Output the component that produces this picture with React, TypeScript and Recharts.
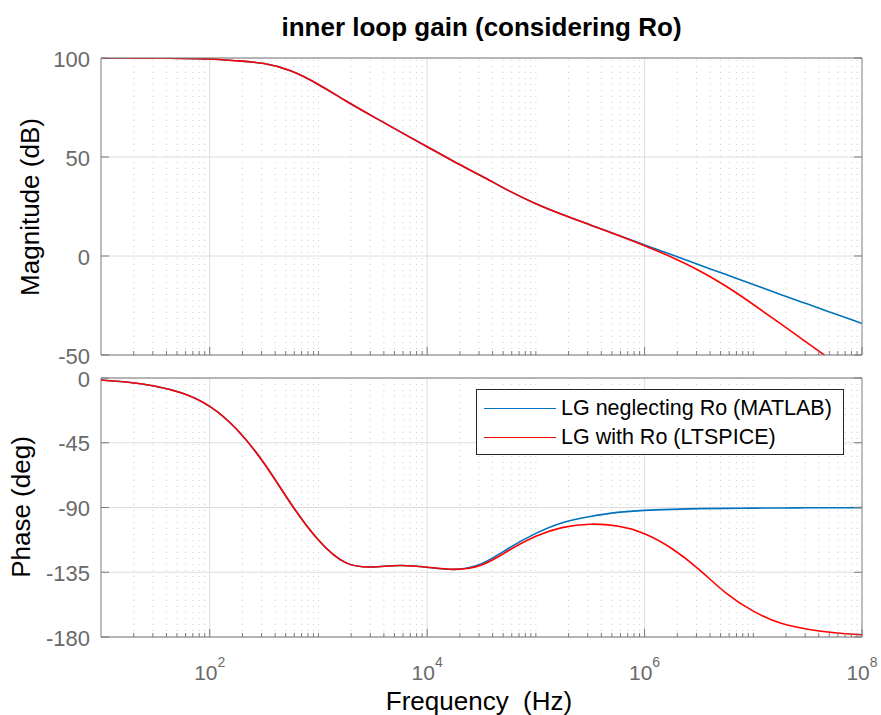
import React from 'react'
import { LineChart, Line, XAxis, YAxis, CartesianGrid, Legend, ReferenceLine } from 'recharts'

// frequency points, a quarter decade apart (Hz)
const freqHz = [
  10, 17.78, 31.62, 56.23, 100, 177.8, 316.2, 562.3, 1000, 1778, 3162, 5623, 10000, 17783, 31623,
  56234, 100000, 177828, 316228, 562341, 1000000, 1778279, 3162278, 5623413, 10000000, 17782794,
  31622777, 56234133, 100000000,
]

// magnitude (dB)
const magMatlab = [
  100, 100, 99.9, 99.8, 99.5, 98.6, 97.2, 93.4, 86.6, 78.4, 70.5, 62.8, 55.2, 47.6, 40.4, 33.0,
  26.4, 20.8, 15.7, 10.6, 5.6, 0.6, -4.4, -9.4, -14.4, -19.4, -24.3, -29.2, -34.1,
]
const magLtspice = [
  100, 100, 99.9, 99.8, 99.5, 98.6, 97.2, 93.4, 86.6, 78.4, 70.5, 62.8, 55.2, 47.6, 40.4, 33.0,
  26.4, 20.8, 15.7, 10.6, 5.2, -0.6, -7.3, -15.3, -24.5, -34.2, -44.0, -53.8, -63.7,
]

// phase (deg)
const phaseMatlab = [
  -1.4, -3.0, -5.7, -10.6, -19.7, -35.8, -59.3, -87.7, -112.6, -128.3, -131.3, -130.3, -131.5,
  -133, -129, -118.3, -108, -100.4, -96.2, -93.4, -92, -91.3, -90.8, -90.6, -90.4, -90.3, -90.2,
  -90.2, -90.1,
]
const phaseLtspice = [
  -1.4, -3.0, -5.7, -10.6, -19.7, -35.8, -59.3, -87.7, -112.6, -128.3, -131.3, -130.3, -131.5,
  -133, -130, -119.9, -110, -103.8, -101.6, -102.9, -108.2, -118.5, -133, -149.5, -162, -170.3,
  -174.6, -177, -178.4,
]

const seriesNames = ['LG neglecting Ro (MATLAB)', 'LG with Ro (LTSPICE)']
const magTicks = [-50, 0, 50, 100]
const phaseTicks = [-180, -135, -90, -45, 0]
const majorXTicks = [100, 10000, 1000000, 100000000]
const majorGridX = [100, 10000, 1000000]

// minor ticks: 2..9 of each decade plus the unlabelled decades
const minorXTicks: number[] = []
for (let d = 1; d <= 7; d++) {
  for (let k = 2; k <= 10; k++) {
    const v = k * Math.pow(10, d)
    if (!majorXTicks.includes(v)) minorXTicks.push(v)
  }
}
const allXTicks = [...minorXTicks, ...majorXTicks].sort((a, b) => a - b)

const magData = freqHz.map((f, i) => ({ f, matlab: magMatlab[i], ltspice: magLtspice[i] }))
const phaseData = freqHz.map((f, i) => ({ f, matlab: phaseMatlab[i], ltspice: phaseLtspice[i] }))

const BLUE = '#0072BD'
const RED = '#FF0000'
const AXIS = '#7a7a7a'
const TICK = '#6a6a6a'
const FONT = '"Liberation Sans", Arial, Helvetica, sans-serif'

const isMajor = (v: number) => majorXTicks.includes(v)

const BottomTick = (props: any) => {
  const { x, y, payload, labels } = props
  const v = payload.value
  const len = isMajor(v) ? 8 : 4
  return (
    <g>
      <line x1={x} x2={x} y1={y} y2={y - len} stroke={AXIS} />
      {labels && isMajor(v) && (
        <text x={x} y={y + 43} textAnchor="middle" fill={TICK} fontSize={21} fontFamily={FONT}>
          10
          <tspan dy={-13} fontSize={14}>
            {Math.round(Math.log10(v))}
          </tspan>
        </text>
      )}
    </g>
  )
}

const TopTick = (props: any) => {
  const { x, y, payload } = props
  const len = isMajor(payload.value) ? 8 : 4
  return <line x1={x} x2={x} y1={y} y2={y + len} stroke={AXIS} />
}

const LeftTick = (props: any) => {
  const { x, y, payload } = props
  return (
    <g>
      <line x1={x} x2={x + 8} y1={y} y2={y} stroke={AXIS} />
      <text
        x={x - 11}
        y={y}
        dy={1}
        textAnchor="end"
        dominantBaseline="central"
        fill={TICK}
        fontSize={22}
        fontFamily={FONT}
      >
        {payload.value}
      </text>
    </g>
  )
}

const RightTick = (props: any) => {
  const { x, y } = props
  return <line x1={x} x2={x - 8} y1={y} y2={y} stroke={AXIS} />
}

const LegendBox = ({ payload }: any) => (
  <div
    style={{
      position: 'relative',
      width: 368,
      height: 66,
      boxSizing: 'border-box',
      border: '1px solid #262626',
      background: '#fff',
      fontFamily: FONT,
    }}
  >
    {(payload || []).map((p: any, i: number) => (
      <div
        key={p.value}
        style={{
          position: 'absolute',
          left: 7,
          top: 3.6 + i * 29.4,
          height: 29.4,
          display: 'flex',
          alignItems: 'center',
          whiteSpace: 'nowrap',
        }}
      >
        <div style={{ width: 72, borderTop: `1.6px solid ${p.color}` }} />
        <span style={{ marginLeft: 5, fontSize: 21.5, color: '#000' }}>{p.value}</span>
      </div>
    ))}
  </div>
)

function Panel({
  data,
  ticks,
  domain,
  height,
  top,
  bottomHeight,
  labels,
  legend,
}: {
  data: any[]
  ticks: number[]
  domain: [number, number]
  height: number
  top: number
  bottomHeight: number
  labels: boolean
  legend: boolean
}) {
  return (
    <LineChart width={881} height={height} data={data} margin={{ top, right: 0, bottom: 0, left: 0 }}>
      <CartesianGrid xAxisId="b" yAxisId="l" vertical={false} stroke="#dedede" />
      {minorXTicks.map((v) => (
        <ReferenceLine
          key={'m' + v}
          xAxisId="b"
          yAxisId="l"
          x={v}
          stroke="#cdcdcd"
          strokeDasharray="1 5"
          zIndex={-90}
        />
      ))}
      {majorGridX.map((v) => (
        <ReferenceLine key={'M' + v} xAxisId="b" yAxisId="l" x={v} stroke="#dedede" zIndex={-90} />
      ))}
      <XAxis
        xAxisId="b"
        dataKey="f"
        type="number"
        scale="log"
        domain={[10, 100000000]}
        allowDataOverflow
        ticks={allXTicks}
        interval={0}
        height={bottomHeight}
        tickSize={0}
        tickMargin={0}
        tickLine={false}
        axisLine={{ stroke: AXIS }}
        tick={<BottomTick labels={labels} />}
      />
      <XAxis
        xAxisId="t"
        orientation="top"
        type="number"
        scale="log"
        domain={[10, 100000000]}
        allowDataOverflow
        ticks={allXTicks}
        interval={0}
        height={10}
        tickSize={0}
        tickMargin={0}
        tickLine={false}
        axisLine={{ stroke: AXIS }}
        tick={<TopTick />}
      />
      <YAxis
        yAxisId="l"
        type="number"
        domain={domain}
        allowDataOverflow
        ticks={ticks}
        interval={0}
        width={101}
        tickSize={0}
        tickMargin={0}
        tickLine={false}
        axisLine={{ stroke: AXIS }}
        tick={<LeftTick />}
      />
      <YAxis
        yAxisId="r"
        orientation="right"
        type="number"
        domain={domain}
        allowDataOverflow
        ticks={ticks}
        interval={0}
        width={19}
        tickSize={0}
        tickMargin={0}
        tickLine={false}
        axisLine={{ stroke: AXIS }}
        tick={<RightTick />}
      />
      <Line
        xAxisId="b"
        yAxisId="l"
        type="natural"
        dataKey="matlab"
        name={seriesNames[0]}
        stroke={BLUE}
        strokeWidth={1.6}
        dot={false}
        isAnimationActive={false}
      />
      <Line
        xAxisId="b"
        yAxisId="l"
        type="natural"
        dataKey="ltspice"
        name={seriesNames[1]}
        stroke={RED}
        strokeWidth={1.6}
        dot={false}
        isAnimationActive={false}
      />
      {legend && (
        <Legend
          layout="horizontal"
          verticalAlign="middle"
          align="center"
          content={<LegendBox />}
          wrapperStyle={{ left: 476, top: 29, width: 368, height: 66 }}
        />
      )}
    </LineChart>
  )
}

const textStyle: React.CSSProperties = {
  position: 'absolute',
  fontFamily: FONT,
  color: '#000',
  whiteSpace: 'pre',
  lineHeight: 1,
}

export default function App() {
  return (
    <div
      style={{
        position: 'absolute',
        left: 0,
        top: 0,
        width: 881,
        height: 715,
        background: '#fff',
        overflow: 'hidden',
      }}
    >
      <div style={{ position: 'absolute', left: 0, top: 0 }}>
        <Panel
          data={magData}
          ticks={magTicks}
          domain={[-50, 100]}
          height={375}
          top={48}
          bottomHeight={20}
          labels={false}
          legend={false}
        />
      </div>
      <div style={{ position: 'absolute', left: 0, top: 360 }}>
        <Panel
          data={phaseData}
          ticks={phaseTicks}
          domain={[-180, 0]}
          height={355}
          top={8}
          bottomHeight={78}
          labels
          legend
        />
      </div>
      <div
        style={{
          ...textStyle,
          left: 101,
          width: 761,
          top: 14,
          textAlign: 'center',
          fontSize: 26,
          fontWeight: 'bold',
        }}
      >
        inner loop gain (considering Ro)
      </div>
      <div
        style={{
          ...textStyle,
          left: 30,
          top: 207,
          fontSize: 26,
          transform: 'translate(-50%, -50%) rotate(-90deg)',
        }}
      >
        Magnitude (dB)
      </div>
      <div
        style={{
          ...textStyle,
          left: 21,
          top: 507,
          fontSize: 26,
          transform: 'translate(-50%, -50%) rotate(-90deg)',
        }}
      >
        Phase (deg)
      </div>
      <div
        style={{
          ...textStyle,
          left: 479,
          top: 701,
          fontSize: 26,
          transform: 'translate(-50%, -50%)',
        }}
      >
        Frequency  (Hz)
      </div>
    </div>
  )
}
